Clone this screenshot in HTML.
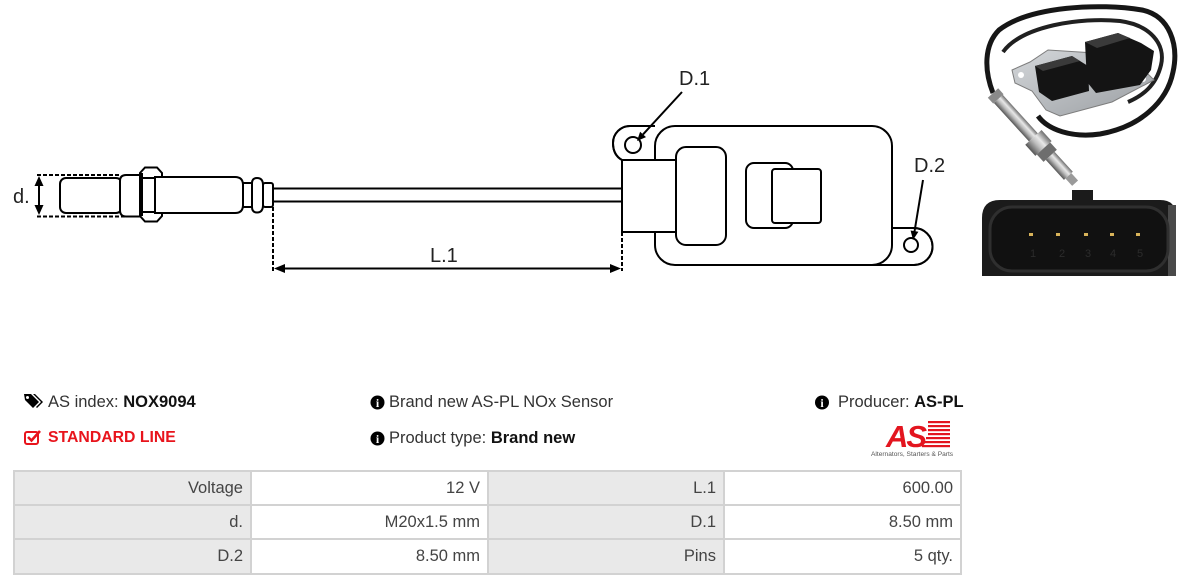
<!DOCTYPE html>
<html><head><meta charset="utf-8">
<style>
html,body{margin:0;padding:0;background:#fff;}
body{width:1185px;height:586px;position:relative;overflow:hidden;font-family:"Liberation Sans",Arial,sans-serif;}
.t{position:absolute;font-size:16.5px;line-height:20px;color:#333;white-space:nowrap;}
.t b{color:#111;}
.grid{position:absolute;left:13px;top:470px;width:949px;height:105px;background:#d2d2d2;}
.c{position:absolute;font-size:16.5px;color:#444;text-align:right;box-sizing:border-box;padding-right:7px;}
.l{background:#e9e9e9;}
.v{background:#fff;}
</style></head><body>
<svg width="1185" height="586" style="position:absolute;left:0;top:0" xmlns="http://www.w3.org/2000/svg">
<defs>
<linearGradient id="met" x1="0" y1="0" x2="0" y2="1">
<stop offset="0" stop-color="#6d6d6d"/><stop offset="0.35" stop-color="#e8e8e8"/><stop offset="0.6" stop-color="#bdbdbd"/><stop offset="1" stop-color="#555"/>
</linearGradient>
<linearGradient id="plate" x1="0" y1="0" x2="1" y2="1">
<stop offset="0" stop-color="#d4d7da"/><stop offset="1" stop-color="#9a9ea2"/>
</linearGradient>
</defs>
<g fill="none" stroke="#000" stroke-width="2">
<line x1="37" y1="175" x2="120" y2="175" stroke-dasharray="4 2"/>
<line x1="37" y1="216.5" x2="125" y2="216.5" stroke-dasharray="4 2"/>
<rect x="60" y="178" width="62" height="35" rx="6" fill="#fff"/>
<path d="M141,175 H126 Q120,175 120,181 V210 Q120,216.5 126,216.5 H141" fill="#fff"/>
<polygon points="145,167.5 157,167.5 162,173 162,216 157,221.5 145,221.5 140,216 140,173" fill="#fff"/>
<line x1="142" y1="173" x2="142" y2="216"/>
<line x1="141" y1="178" x2="161" y2="178"/>
<line x1="141" y1="212" x2="161" y2="212"/>
<path d="M155,177 H235 Q243,177 243,185 V205 Q243,213 235,213 H155 Z" fill="#fff"/>
<rect x="243" y="183" width="9" height="24" fill="#fff"/>
<path d="M252,183 Q252,178 257,178 Q263,178 263,185 V205 Q263,212.5 257,212.5 Q252,212.5 252,207 Z" fill="#fff"/>
<rect x="263" y="183" width="10" height="24" rx="2" fill="#fff"/>
<line x1="273" y1="188.5" x2="622" y2="188.5"/>
<line x1="273" y1="201.5" x2="622" y2="201.5"/>
<line x1="273" y1="207" x2="273" y2="271" stroke-dasharray="4 2"/>
<line x1="622" y1="232" x2="622" y2="271" stroke-dasharray="4 2"/>
<line x1="282" y1="268.5" x2="613" y2="268.5"/>
<line x1="39" y1="184" x2="39" y2="207"/>
<path d="M655,126 H630 A17,17 0 0 0 613,143 Q613,155 622,160" fill="#fff"/>
<path d="M888,228 H914 A18.5,18.5 0 0 1 914,265 H870" fill="#fff"/>
<rect x="655" y="126" width="237" height="139" rx="20" fill="#fff"/>
<path d="M655,126 H630 A17,17 0 0 0 613,143 Q613,155 622,160 H656"/>
<path d="M892,228 H914 A18.5,18.5 0 0 1 914,265 H880"/>
<circle cx="633" cy="145" r="8"/>
<circle cx="911" cy="245" r="7"/>
<rect x="622" y="160" width="54" height="72" fill="#fff"/>
<rect x="676" y="147" width="50" height="98" rx="10" fill="#fff"/>
<rect x="746" y="163" width="47" height="65" rx="8" fill="#fff"/>
<rect x="772" y="169" width="49" height="54" rx="3" fill="#fff"/>
<line x1="682" y1="92" x2="643" y2="134.4"/>
<line x1="923" y1="180" x2="914.5" y2="231.5"/>
</g>
<g fill="#000">
<polygon points="39,176 34.5,186 43.5,186"/>
<polygon points="39,215 34.5,205 43.5,205"/>
<polygon points="274,268.5 285,264 285,273"/>
<polygon points="621,268.5 610,264 610,273"/>
<polygon points="637,141 646,137.1 640.1,131.7"/>
<polygon points="913,240 918.4,231.8 910.6,230.5"/>
</g>
<g font-family="Liberation Sans, Arial, sans-serif" font-size="20" fill="#222">
<text x="13" y="203">d.</text>
<text x="430" y="262">L.1</text>
<text x="679" y="85">D.1</text>
<text x="914" y="172">D.2</text>
</g>

<!-- photo -->
<g>
<path d="M993,93 C984,70 984,45 999,30 C1030,6 1100,3 1142,10 C1170,16 1179,45 1173,72 C1167,102 1140,127 1100,134 C1072,138 1048,130 1038,116" fill="none" stroke="#161616" stroke-width="5"/>
<path d="M1003,52 C1022,26 1080,17 1120,21 C1150,25 1166,44 1161,65 C1156,86 1142,96 1128,102" fill="none" stroke="#202020" stroke-width="4"/>
<polygon points="1012,70 1030,62 1048,50 1095,53 1142,68 1154,80 1112,102 1060,116 1046,110 1032,91 1015,83" fill="url(#plate)" stroke="#7d7d7d" stroke-width="1"/>
<circle cx="1021" cy="75" r="3" fill="#fff"/>
<circle cx="1143" cy="79" r="3" fill="#fff"/>
<path d="M1035,66 L1072,56 L1088,66 L1089,91 L1052,101 L1039,92 Z" fill="#141414"/>
<path d="M1035,66 L1072,56 L1080,61 L1043,71 Z" fill="#3a3a3a"/>
<path d="M1085,42 L1118,33 L1141,43 L1154,51 L1151,70 L1140,85 L1096,93 L1087,82 Z" fill="#141414"/>
<path d="M1085,42 L1118,33 L1130,38 L1097,48 Z" fill="#3a3a3a"/>
<g transform="translate(993,93) rotate(47.7)">
<rect x="0" y="-7" width="8" height="14" fill="#8a8a8a"/>
<rect x="8" y="-6" width="52" height="12" fill="url(#met)"/>
<rect x="60" y="-11" width="15" height="22" fill="url(#met)"/>
<rect x="75" y="-9" width="10" height="18" fill="#6e6e6e"/>
<rect x="85" y="-6" width="27" height="12" fill="url(#met)"/>
<rect x="112" y="-4" width="10" height="8" fill="#9a9a9a"/>
</g>
<path d="M982,276 V218 Q982,200 1000,200 H1072 V190 H1093 V200 H1160 Q1176,200 1176,216 V276 Z" fill="#1b1b1b"/>
<rect x="1168" y="205" width="8" height="71" fill="#4a4a4a"/>
<rect x="990" y="207" width="178" height="64" rx="22" fill="#111" stroke="#2f2f2f" stroke-width="3"/>
<g fill="#d8b35a">
<rect x="1029" y="233" width="4" height="3"/>
<rect x="1056" y="233" width="4" height="3"/>
<rect x="1084" y="233" width="4" height="3"/>
<rect x="1110" y="233" width="4" height="3"/>
<rect x="1136" y="233" width="4" height="3"/>
</g>
<g fill="#2c2c2c" font-family="Liberation Sans, Arial, sans-serif" font-size="11">
<text x="1030" y="257">1</text><text x="1059" y="257">2</text><text x="1085" y="257">3</text><text x="1110" y="257">4</text><text x="1137" y="257">5</text>
</g>
</g>

<!-- icons -->
<g fill="#000">
<path d="M24,394 H31 L39,402 L33,408 L25,400 Z"/>
<circle cx="27.5" cy="397.5" r="1.5" fill="#fff"/>
<path d="M33,394 H35 L43,402 L37,408 L36,407 L41,402 Z"/>
<circle cx="377.5" cy="402.5" r="7"/>
<circle cx="377.5" cy="438.5" r="7"/>
<circle cx="822" cy="402.5" r="7"/>
</g>
<g fill="#fff" font-family="Liberation Serif, serif" font-weight="bold" font-size="12" text-anchor="middle">
<text x="377.5" y="406.8">i</text>
<text x="377.5" y="442.8">i</text>
<text x="822" y="406.8">i</text>
</g>
<g fill="none" stroke="#e8141c" stroke-width="2">
<rect x="25" y="432" width="13" height="12" rx="2"/>
<path d="M28,437 L31.5,440.5 L40,431" stroke-width="2.6"/>
</g>
<!-- AS logo -->
<g>
<g fill="#e3151f">
<rect x="928" y="421" width="22" height="2.2"/>
<rect x="928" y="425" width="22" height="2.2"/>
<rect x="928" y="429" width="22" height="2.2"/>
<rect x="928" y="433" width="22" height="2.2"/>
<rect x="926" y="437" width="24" height="2.2"/>
<rect x="924" y="441" width="26" height="2.2"/>
<rect x="922" y="445" width="28" height="2.2"/>
</g>
<text x="886" y="447" font-family="Liberation Sans, Arial, sans-serif" font-weight="bold" font-style="italic" font-size="31" fill="#e3151f" letter-spacing="-2">AS</text>
<text x="871" y="456" font-family="Liberation Sans, Arial, sans-serif" font-size="6.6" fill="#555">Alternators, Starters &amp; Parts</text>
</g>
</svg>

<div class="t" style="left:48px;top:392px;">AS index: <b>NOX9094</b></div>
<div class="t" style="left:48px;top:428px;color:#e8141c;font-weight:bold;font-size:15.8px;">STANDARD LINE</div>
<div class="t" style="left:389px;top:392px;">Brand new AS-PL NOx Sensor</div>
<div class="t" style="left:389px;top:428px;">Product type: <b>Brand new</b></div>
<div class="t" style="left:838px;top:392px;">Producer: <b>AS-PL</b></div>

<div class="grid">
<div class="c l" style="left:2px;top:2px;width:235px;height:32px;line-height:32px;">Voltage</div>
<div class="c v" style="left:239px;top:2px;width:235px;height:32px;line-height:32px;">12 V</div>
<div class="c l" style="left:476px;top:2px;width:234px;height:32px;line-height:32px;">L.1</div>
<div class="c v" style="left:712px;top:2px;width:235px;height:32px;line-height:32px;">600.00</div>

<div class="c l" style="left:2px;top:36px;width:235px;height:32px;line-height:32px;">d.</div>
<div class="c v" style="left:239px;top:36px;width:235px;height:32px;line-height:32px;">M20x1.5 mm</div>
<div class="c l" style="left:476px;top:36px;width:234px;height:32px;line-height:32px;">D.1</div>
<div class="c v" style="left:712px;top:36px;width:235px;height:32px;line-height:32px;">8.50 mm</div>

<div class="c l" style="left:2px;top:70px;width:235px;height:33px;line-height:33px;">D.2</div>
<div class="c v" style="left:239px;top:70px;width:235px;height:33px;line-height:33px;">8.50 mm</div>
<div class="c l" style="left:476px;top:70px;width:234px;height:33px;line-height:33px;">Pins</div>
<div class="c v" style="left:712px;top:70px;width:235px;height:33px;line-height:33px;">5 qty.</div>
</div>
</body></html>
